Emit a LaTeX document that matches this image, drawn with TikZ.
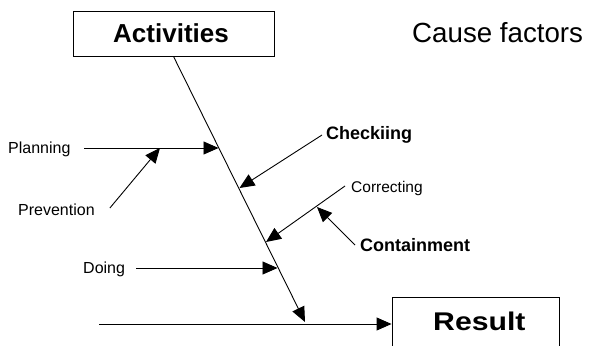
\documentclass[tikz,border=0pt]{standalone}
\usepackage{fontspec}
\setmainfont{Liberation Sans}
\usetikzlibrary{arrows.meta,calc}

\begin{document}
\begin{tikzpicture}[x=1pt,y=-1pt,
  arr/.style={-{Triangle[length=15pt,width=13pt]}, line width=0.9pt},
  wire/.style={line width=0.9pt},
  lbl/.style={inner sep=0pt, anchor=base west},
  small/.style={lbl, font=\fontsize{16}{19}\selectfont},
  boxframe/.style={draw, line width=0.9pt, inner sep=0pt},
]
\clip (0,0) rectangle (593,345);

% head and tail boxes
\node[boxframe, minimum width=201pt, minimum height=45pt] (act) at (173.5,33.5) {};
\node[lbl, font=\bfseries\fontsize{26}{30}\selectfont] (acttxt) at (113,42.5) {Activities};
\node[lbl, font=\fontsize{27.7}{32}\selectfont] (cause) at (412,42) {Cause factors};
\node[boxframe, minimum width=167pt, minimum height=60pt] (res) at (475.5,327) {};
\node[lbl, font=\bfseries\fontsize{25.6}{30}\selectfont] (restxt) at (433,330) {\scalebox{1.18}[1]{Result}};

% cause labels
\node[small] (plan) at (8,153.5) {Planning};
\node[small] (prev) at (18,215) {Prevention};
\node[small] (doing) at (83,273.5) {Doing};
\node[lbl, font=\bfseries\fontsize{18}{21}\selectfont] (chk) at (326,139) {Checkiing};
\node[lbl, font=\fontsize{15.5}{18}\selectfont] (corr) at (351,192.5) {Correcting};
\node[lbl, font=\bfseries\fontsize{18}{21}\selectfont] (cont) at (360,251.5) {Containment};

% points where the branches meet
\coordinate (sp) at (305,322);
\coordinate (pl) at (218.5,148);
\coordinate (pv) at (160,148);
\coordinate (ck) at (239.5,188);
\coordinate (cr) at (266,242);
\coordinate (ct) at (317,207);
\coordinate (dg) at (277.5,268);
\coordinate (tail) at (99,324);

% spine and result line
\draw[arr] (act.south) -- (sp);
\draw[arr] (tail) -- (tail -| res.west);

% branches
\draw[arr] ($(plan.base east)+(13.5,-5.5)$) -- (pl);
\draw[arr] ($(prev.base east)+(15,-7)$) -- (pv);
\draw[arr] ($(doing.base east)+(11,-5.5)$) -- (dg);
\draw[arr] ($(chk.base west)+(-4,-4)$) -- (ck);
\draw[arr] ($(corr.base west)+(-6,-6.5)$) -- (cr);
\draw[arr] ($(cont.base west)+(-5,-6.5)$) -- (ct);
\end{tikzpicture}
\end{document}
